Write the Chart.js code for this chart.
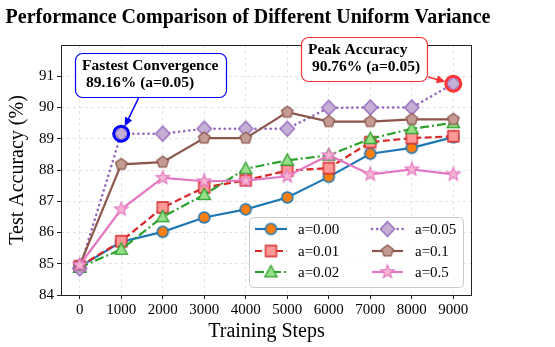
<!DOCTYPE html>
<html>
<head>
<meta charset="utf-8">
<script src="https://cdn.jsdelivr.net/npm/chart.js@4.4.1/dist/chart.umd.min.js"></script>
<style>
  html, body { margin: 0; padding: 0; background: #fff; }
  #wrap { width: 555px; height: 347px; }
</style>
</head>
<body>
<div id="wrap"><canvas id="chart" width="555" height="347"></canvas></div>
<script>
// Data
const steps = [0, 1000, 2000, 3000, 4000, 5000, 6000, 7000, 8000, 9000];
const xTicks = [0, 1000, 2000, 3000, 4000, 5000, 6000, 7000, 8000, 9000];
const yTicks = [84, 85, 86, 87, 88, 89, 90, 91];
const seriesLabels = ['a=0.00', 'a=0.01', 'a=0.02', 'a=0.05', 'a=0.1', 'a=0.5'];

const acc000 = [84.90, 85.70, 86.02, 86.48, 86.74, 87.12, 87.78, 88.52, 88.71, 89.05];
const acc001 = [84.92, 85.72, 86.80, 87.44, 87.67, 87.98, 88.06, 88.89, 89.02, 89.08];
const acc002 = [84.88, 85.46, 86.50, 87.21, 88.04, 88.31, 88.47, 89.00, 89.32, 89.51];
const acc005 = [84.85, 89.16, 89.16, 89.32, 89.32, 89.32, 89.99, 90.00, 90.00, 90.76];
const acc01  = [84.95, 88.18, 88.25, 89.02, 89.02, 89.85, 89.55, 89.55, 89.62, 89.62];
const acc05  = [84.96, 86.74, 87.75, 87.64, 87.66, 87.80, 88.47, 87.86, 88.02, 87.86];

const FONT = '"Liberation Serif", "DejaVu Serif", serif';

// marker images (matplotlib-like shapes)
function makeMarker(shape, size, fill, stroke, lw) {
    const pad = 2;
    const c = document.createElement('canvas');
    const d = Math.ceil(size + pad * 2);
    c.width = d; c.height = d;
    const g = c.getContext('2d');
    const cx = d / 2, cy = d / 2, r = size / 2;
    g.beginPath();
    if (shape === 'circle') {
        g.arc(cx, cy, r, 0, Math.PI * 2);
    } else if (shape === 'square') {
        g.rect(cx - r, cy - r, r * 2, r * 2);
    } else if (shape === 'triangle') {
        g.moveTo(cx, cy - r);
        g.lineTo(cx + r * 0.95, cy + r * 0.75);
        g.lineTo(cx - r * 0.95, cy + r * 0.75);
        g.closePath();
    } else if (shape === 'diamond') {
        g.moveTo(cx, cy - r);
        g.lineTo(cx + r * 0.95, cy);
        g.lineTo(cx, cy + r);
        g.lineTo(cx - r * 0.95, cy);
        g.closePath();
    } else if (shape === 'pentagon') {
        for (let i = 0; i < 5; i++) {
            const a = -Math.PI / 2 + i * 2 * Math.PI / 5;
            const px = cx + r * Math.cos(a), py = cy + r * Math.sin(a);
            if (i === 0) g.moveTo(px, py); else g.lineTo(px, py);
        }
        g.closePath();
    } else if (shape === 'star') {
        for (let i = 0; i < 10; i++) {
            const a = -Math.PI / 2 + i * Math.PI / 5;
            const rr = i % 2 === 0 ? r : r * 0.42;
            const px = cx + rr * Math.cos(a), py = cy + rr * Math.sin(a);
            if (i === 0) g.moveTo(px, py); else g.lineTo(px, py);
        }
        g.closePath();
    }
    g.fillStyle = fill;
    g.fill();
    g.lineWidth = lw;
    g.strokeStyle = stroke;
    g.lineJoin = 'miter';
    g.stroke();
    return c;
}

const styles = [
    { color: '#1f77b4', marker: makeMarker('circle', 11, '#ff7f0e', '#1f77b4', 1.5), dash: [], width: 2.2 },
    { color: '#d62728', marker: makeMarker('square', 11, '#ff9896', '#d62728', 1.3), dash: [7, 3.5], width: 2.2 },
    { color: '#2ca02c', marker: makeMarker('triangle', 13, '#98df8a', '#2ca02c', 1.3), dash: [9, 3, 2, 3], width: 2.2 },
    { color: '#9467bd', marker: makeMarker('diamond', 15, '#c5b0d5', '#9467bd', 1.3), dash: [0.1, 5], width: 2.6 },
    { color: '#8c564b', marker: makeMarker('pentagon', 12, '#c49c94', '#8c564b', 1.3), dash: [], width: 2.2 },
    { color: '#e377c2', marker: makeMarker('star', 14, '#f7b6d2', '#e377c2', 1.2), dash: [], width: 2.2 }
];

const seriesValues = [acc000, acc001, acc002, acc005, acc01, acc05];

const datasets = seriesValues.map((vals, i) => ({
    label: seriesLabels[i],
    data: steps.map((s, j) => ({ x: s, y: vals[j] })),
    borderColor: styles[i].color,
    borderWidth: styles[i].width,
    borderDash: styles[i].dash,
    borderCapStyle: i === 3 ? 'round' : 'butt',
    pointStyle: styles[i].marker,
    pointRadius: 6,
    pointHoverRadius: 6,
    tension: 0,
    fill: false,
    order: seriesValues.length - i
}));

// title, axis labels, frame, annotations and legend
const decor = {
    id: 'decor',
    beforeDatasetsDraw(chart) {
        const { ctx, chartArea: a } = chart;
        ctx.save();
        ctx.strokeStyle = '#222';
        ctx.lineWidth = 1;
        ctx.strokeRect(a.left + 0.5, a.top + 0.5, a.right - a.left - 1, a.bottom - a.top);
        ctx.restore();
    },
    afterDatasetsDraw(chart) {
        const { ctx, chartArea: a, scales } = chart;
        const xs = scales.x, ys = scales.y;
        ctx.save();

        // title
        ctx.fillStyle = '#000';
        ctx.font = 'bold 20px ' + FONT;
        ctx.textAlign = 'center';
        ctx.textBaseline = 'middle';
        ctx.fillText('Performance Comparison of Different Uniform Variance', 248, 18);

        // axis labels
        ctx.font = '20px ' + FONT;
        ctx.fillText('Training Steps', (a.left + a.right) / 2, 332);
        ctx.save();
        ctx.translate(18, (a.top + a.bottom) / 2);
        ctx.rotate(-Math.PI / 2);
        ctx.fillText('Test Accuracy (%)', 0, 0);
        ctx.restore();

        // annotations
        const fastIdx = 1, peakIdx = 9;
        drawNote(ctx, {
            box: [75, 53, 151, 44], color: '#0000ff',
            lines: ['Fastest Convergence', ' 89.16% (a=0.05)'],
            from: [139, 97],
            to: [xs.getPixelForValue(steps[fastIdx]), ys.getPixelForValue(acc005[fastIdx])]
        });
        drawNote(ctx, {
            box: [301, 37, 126, 44], color: '#ff3333',
            lines: ['Peak Accuracy', ' 90.76% (a=0.05)'],
            from: [428, 77],
            to: [xs.getPixelForValue(steps[peakIdx]), ys.getPixelForValue(acc005[peakIdx])]
        });

        // legend
        const lg = { x: 249, y: 217, w: 214, h: 70 };
        ctx.fillStyle = 'rgba(255,255,255,0.85)';
        ctx.strokeStyle = '#cccccc';
        ctx.lineWidth = 1;
        ctx.beginPath();
        ctx.roundRect(lg.x + 0.5, lg.y + 0.5, lg.w, lg.h, 4);
        ctx.fill();
        ctx.stroke();
        ctx.font = '15px ' + FONT;
        ctx.textAlign = 'left';
        ctx.textBaseline = 'middle';
        const rowsY = [229, 251, 272];
        const colX = [[255, 287, 298], [372, 403, 415]];
        datasets.forEach((ds, i) => {
            const col = Math.floor(i / 3), row = i % 3;
            const [x0, x1, tx] = colX[col];
            const y = rowsY[row];
            ctx.save();
            ctx.strokeStyle = ds.borderColor;
            ctx.lineWidth = ds.borderWidth;
            ctx.setLineDash(ds.borderDash);
            ctx.lineCap = ds.borderCapStyle;
            ctx.beginPath();
            ctx.moveTo(x0, y);
            ctx.lineTo(x1, y);
            ctx.stroke();
            ctx.restore();
            const m = ds.pointStyle;
            ctx.drawImage(m, (x0 + x1) / 2 - m.width / 2, y - m.height / 2);
            ctx.fillStyle = '#000';
            ctx.fillText(ds.label, tx, y + 1);
        });
        ctx.restore();
    }
};

function drawNote(ctx, n) {
    const [bx, by, bw, bh] = n.box;
    const [tx, ty] = n.to;
    // highlight ring
    ctx.save();
    ctx.strokeStyle = n.color;
    ctx.lineWidth = 3;
    ctx.beginPath();
    ctx.arc(tx, ty, 7.5, 0, Math.PI * 2);
    ctx.stroke();
    // arrow
    const [fx, fy] = n.from;
    const ang = Math.atan2(ty - fy, tx - fx);
    const ex = tx - Math.cos(ang) * 8, ey = ty - Math.sin(ang) * 8;
    ctx.lineWidth = 1.5;
    ctx.beginPath();
    ctx.moveTo(fx, fy);
    ctx.lineTo(ex - Math.cos(ang) * 5, ey - Math.sin(ang) * 5);
    ctx.stroke();
    ctx.fillStyle = n.color;
    ctx.beginPath();
    ctx.moveTo(ex, ey);
    ctx.lineTo(ex - Math.cos(ang) * 9 + Math.sin(ang) * 4, ey - Math.sin(ang) * 9 - Math.cos(ang) * 4);
    ctx.lineTo(ex - Math.cos(ang) * 9 - Math.sin(ang) * 4, ey - Math.sin(ang) * 9 + Math.cos(ang) * 4);
    ctx.closePath();
    ctx.fill();
    // box
    ctx.fillStyle = '#fff';
    ctx.lineWidth = 1.2;
    ctx.beginPath();
    ctx.roundRect(bx + 0.5, by + 0.5, bw, bh, 7);
    ctx.fill();
    ctx.stroke();
    ctx.fillStyle = '#000';
    ctx.font = 'bold 15.5px ' + FONT;
    ctx.textAlign = 'left';
    ctx.textBaseline = 'middle';
    ctx.fillText(n.lines[0], bx + 7, by + 13);
    ctx.fillText(n.lines[1], bx + 7, by + 30);
    ctx.restore();
}

new Chart(document.getElementById('chart'), {
    type: 'line',
    data: { datasets },
    plugins: [decor],
    options: {
        responsive: false,
        animation: false,
        events: [],
        layout: { padding: { top: 45, right: 83, left: 0, bottom: 0 } },
        plugins: {
            legend: { display: false },
            tooltip: { enabled: false },
            title: { display: false }
        },
        scales: {
            x: {
                type: 'linear',
                min: -450,
                max: 9450,
                afterBuildTicks: (s) => { s.ticks = xTicks.map(v => ({ value: v })); },
                afterFit: (s) => { s.height = 52; },
                grid: {
                    color: '#dddddd',
                    lineWidth: 0.8,
                    drawTicks: true,
                    tickLength: 4,
                    tickColor: '#222',
                    tickWidth: 1
                },
                border: { display: false, dash: [3, 3] },
                ticks: {
                    color: '#000',
                    font: { family: FONT, size: 15 },
                    padding: 2,
                    maxRotation: 0,
                    autoSkip: false,
                    callback: (v) => String(v)
                }
            },
            y: {
                type: 'linear',
                min: 84,
                max: 92,
                afterBuildTicks: (s) => { s.ticks = yTicks.map(v => ({ value: v })); },
                afterFit: (s) => { s.width = 61; },
                grid: {
                    color: '#dddddd',
                    lineWidth: 0.8,
                    drawTicks: true,
                    tickLength: 4,
                    tickColor: '#222',
                    tickWidth: 1
                },
                border: { display: false, dash: [3, 3] },
                ticks: {
                    color: '#000',
                    font: { family: FONT, size: 15 },
                    padding: 3,
                    callback: (v) => String(v)
                }
            }
        }
    }
});
</script>
</body>
</html>
